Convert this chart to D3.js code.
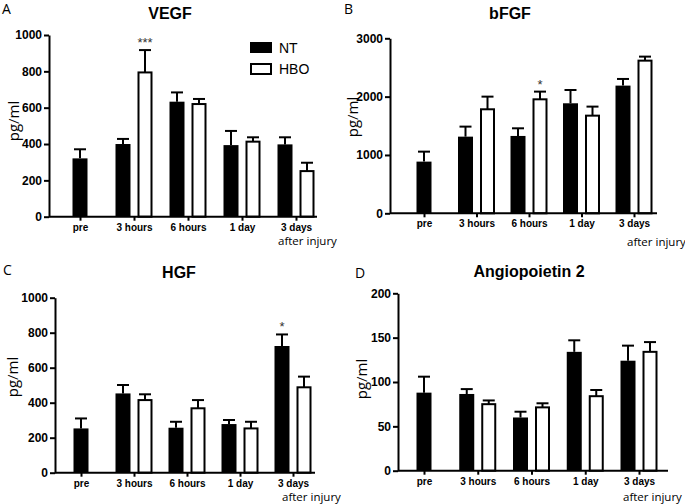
<!DOCTYPE html>
<html><head><meta charset="utf-8">
<script src="https://cdn.jsdelivr.net/npm/d3@7"></script>
<style>
html,body{margin:0;padding:0;background:#fff;}
svg{display:block;}
</style></head>
<body>
<svg id="chart" width="685" height="504"></svg>
<script>
const categories = ["pre", "3 hours", "6 hours", "1 day", "3 days"];
const seriesNames = ["NT", "HBO"];

const vegfNT = [321, 400, 633, 394, 398];
const vegfNTErr = [50, 28, 51, 78, 39];
const vegfHBO = [null, 794, 620, 413, 251];
const vegfHBOErr = [null, 123, 28, 24, 46];
const vegfTicks = [0, 200, 400, 600, 800, 1000];

const bfgfNT = [886, 1314, 1326, 1886, 2189];
const bfgfNTErr = [171, 172, 131, 228, 114];
const bfgfHBO = [null, 1783, 1954, 1674, 2617];
const bfgfHBOErr = [null, 217, 132, 155, 69];
const bfgfTicks = [0, 1000, 2000, 3000];

const hgfNT = [253, 453, 257, 278, 724];
const hgfNTErr = [57, 48, 34, 23, 66];
const hgfHBO = [null, 415, 368, 253, 488];
const hgfHBOErr = [null, 33, 47, 38, 61];
const hgfTicks = [0, 200, 400, 600, 800, 1000];

const angNT = [88, 86.5, 60, 134, 124];
const angNTErr = [18, 5.5, 6.5, 13, 17];
const angHBO = [null, 75, 71.4, 84, 134];
const angHBOErr = [null, 4.2, 4.6, 7, 11];
const angTicks = [0, 50, 100, 150, 200];

const panels = [
  {letter:"A", title:"VEGF", nt:vegfNT, ntErr:vegfNTErr, hbo:vegfHBO, hboErr:vegfHBOErr, ticks:vegfTicks,
   sig:{text:"***", series:"HBO", idx:1},
   left:49, right:317, top:35, bottom:216.7, first:80, last:296,
   letterPos:[2,14], titleX:170, titleY:19, ylabX:13, ylabY:121, afterX:278, afterY:245, legend:true},
  {letter:"B", title:"bFGF", nt:bfgfNT, ntErr:bfgfNTErr, hbo:bfgfHBO, hboErr:bfgfHBOErr, ticks:bfgfTicks,
   sig:{text:"*", series:"HBO", idx:2},
   left:390, right:657, top:38.3, bottom:213.3, first:424, last:634,
   letterPos:[344,14], titleX:510, titleY:19, ylabX:352, ylabY:117, afterX:627, afterY:246},
  {letter:"C", title:"HGF", nt:hgfNT, ntErr:hgfNTErr, hbo:hgfHBO, hboErr:hgfHBOErr, ticks:hgfTicks,
   sig:{text:"*", series:"NT", idx:4},
   left:55, right:315, top:297.7, bottom:472.7, first:81, last:293,
   letterPos:[3,275], titleX:179, titleY:278, ylabX:12, ylabY:377, afterX:282, afterY:501},
  {letter:"D", title:"Angiopoietin 2", nt:angNT, ntErr:angNTErr, hbo:angHBO, hboErr:angHBOErr, ticks:angTicks,
   sig:null,
   left:398, right:668, top:293.3, bottom:470.7, first:424, last:639,
   letterPos:[355,278], titleX:529, titleY:277, ylabX:361, ylabY:379, afterX:623, afterY:501}
];

const svg = d3.select("#chart");
const BOLD = "'Liberation Sans', Arial, sans-serif";
const SOFT = "'Open Sans', 'Noto Sans', sans-serif";
const barW = 15, gap = 7, capW = 12;

panels.forEach(p => {
  const g = svg.append("g");
  const y = d3.scaleLinear().domain([0, p.ticks[p.ticks.length-1]]).range([p.bottom, p.top]);
  const x = d3.scalePoint().domain(categories).range([p.first, p.last]);

  g.append("text").attr("x", p.letterPos[0]).attr("y", p.letterPos[1])
    .attr("font-family", SOFT).attr("font-size", 14).text(p.letter);
  g.append("text").attr("x", p.titleX).attr("y", p.titleY).attr("text-anchor","middle")
    .attr("font-family", BOLD).attr("font-weight","bold").attr("font-size", 16).text(p.title);

  g.append("text").attr("transform", `translate(${p.ylabX},${p.ylabY}) rotate(-90)`)
    .attr("text-anchor","middle").attr("dominant-baseline","central")
    .attr("font-family", SOFT).attr("font-size", 15).text("pg/ml");

  const barX = (s, i) => {
    const c = x(categories[i]);
    if (s === "NT") return (p.hbo[i] == null) ? c - barW/2 : c - gap/2 - barW;
    return c + gap/2;
  };
  const drawSeries = (s, vals, errs) => {
    vals.forEach((v, i) => {
      if (v == null) return;
      const bx = barX(s, i);
      const cx = bx + barW/2;
      const top = y(v + errs[i]);
      g.append("line").attr("x1", cx).attr("x2", cx).attr("y1", y(v)).attr("y2", top)
        .attr("stroke","#000").attr("stroke-width",2);
      g.append("line").attr("x1", cx - capW/2).attr("x2", cx + capW/2).attr("y1", top).attr("y2", top)
        .attr("stroke","#000").attr("stroke-width",2);
      if (s === "NT") {
        g.append("rect").attr("x", bx).attr("y", y(v)).attr("width", barW).attr("height", y(0) - y(v))
          .attr("fill","#000");
      } else {
        g.append("rect").attr("x", bx + 1).attr("y", y(v)).attr("width", barW - 2).attr("height", y(0) - y(v))
          .attr("fill","#fff").attr("stroke","#000").attr("stroke-width",2);
      }
    });
  };
  drawSeries("NT", p.nt, p.ntErr);
  drawSeries("HBO", p.hbo, p.hboErr);

  if (p.sig) {
    const s = p.sig;
    const vals = s.series === "NT" ? p.nt : p.hbo;
    const errs = s.series === "NT" ? p.ntErr : p.hboErr;
    const cx = barX(s.series, s.idx) + barW/2;
    g.append("text").attr("x", cx).attr("y", y(vals[s.idx] + errs[s.idx]) - 3)
      .attr("text-anchor","middle").attr("font-family", BOLD).attr("font-size", 13)
      .attr("fill","#333").text(s.text);
  }

  const ya = g.append("g").attr("transform", `translate(${p.left},0)`)
    .call(d3.axisLeft(y).tickValues(p.ticks).tickFormat(d3.format("d")).tickSize(5).tickPadding(2).tickSizeOuter(0));
  ya.select(".domain").attr("stroke-width",2);
  ya.selectAll(".tick line").attr("stroke-width",2);
  ya.selectAll("text").attr("font-family", BOLD).attr("font-weight","bold").attr("font-size",12).attr("fill","#000");

  const xa = g.append("g").attr("transform", `translate(0,${p.bottom})`)
    .call(d3.axisBottom(x).tickSize(4).tickPadding(3).tickSizeOuter(0));
  xa.select(".domain").attr("d", `M${p.left},0H${p.right}`).attr("stroke-width",2);
  xa.selectAll(".tick line").attr("stroke-width",2);
  xa.selectAll("text").attr("font-family", BOLD).attr("font-weight","bold").attr("font-size",10).attr("fill","#000");

  g.append("text").attr("x", p.afterX).attr("y", p.afterY)
    .attr("font-family", SOFT).attr("font-size", 11.5).text("after injury");

  if (p.legend) {
    const lg = g.append("g");
    const items = [{n:seriesNames[0], y:42}, {n:seriesNames[1], y:63}];
    items.forEach(it => {
      if (it.n === "NT") {
        lg.append("rect").attr("x",250).attr("y",it.y).attr("width",22).attr("height",11).attr("fill","#000");
      } else {
        lg.append("rect").attr("x",251).attr("y",it.y+1).attr("width",20).attr("height",10)
          .attr("fill","#fff").attr("stroke","#000").attr("stroke-width",2);
      }
      lg.append("text").attr("x",279).attr("y",it.y+6).attr("dominant-baseline","central")
        .attr("font-family", BOLD).attr("font-size",14).text(it.n);
    });
  }
});
</script>
</body></html>
